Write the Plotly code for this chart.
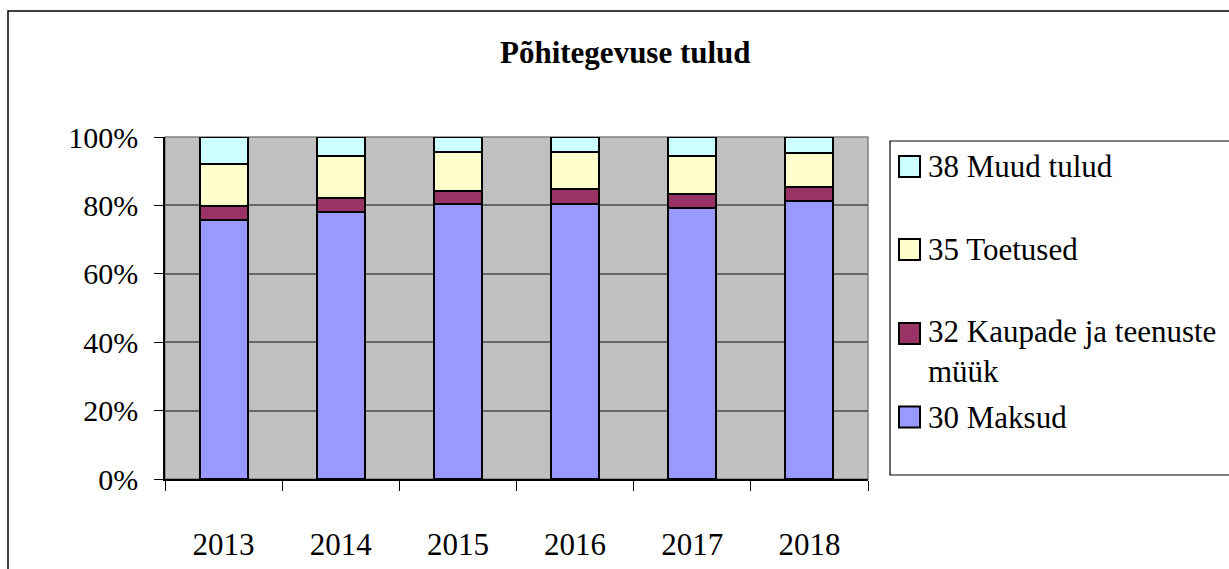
import plotly.graph_objects as go

W, H = 1229, 569

years = ["2013", "2014", "2015", "2016", "2017", "2018"]
maksud = [0.758, 0.782, 0.804, 0.805, 0.793, 0.814]
kaupade = [0.040, 0.039, 0.038, 0.042, 0.040, 0.039]
toetused = [0.122, 0.124, 0.115, 0.109, 0.112, 0.100]
muud = [0.080, 0.055, 0.043, 0.044, 0.055, 0.047]

names = ["30 Maksud", "32 Kaupade ja teenuste müük", "35 Toetused", "38 Muud tulud"]
colors = ["#9999FF", "#993366", "#FFFFCC", "#CCFFFF"]
series = [maksud, kaupade, toetused, muud]
y_ticks = [0, 0.2, 0.4, 0.6, 0.8, 1.0]

FONT = "Liberation Serif"

def px_x(x):
    return x / W

def px_y(y):
    return 1 - y / H

fig = go.Figure()
for name, col, vals in zip(names, colors, series):
    fig.add_trace(go.Bar(
        x=years, y=vals, name=name,
        marker=dict(color=col, line=dict(color="black", width=2)),
        showlegend=False,
    ))

shapes = []
# outer chart border (extends past right/bottom edge)
shapes.append(dict(type="rect", xref="paper", yref="paper",
                   x0=px_x(8), x1=px_x(W + 20), y0=px_y(H + 20), y1=px_y(11),
                   line=dict(color="black", width=1.5), layer="below"))
# plot area border (grey)
shapes.append(dict(type="rect", xref="paper", yref="paper",
                   x0=px_x(165), x1=px_x(868), y0=px_y(479), y1=px_y(137),
                   line=dict(color="#808080", width=1.5), layer="below"))
# legend box
shapes.append(dict(type="rect", xref="paper", yref="paper",
                   x0=px_x(890), x1=px_x(W + 20), y0=px_y(475), y1=px_y(141),
                   line=dict(color="black", width=1.2), layer="below"))

annotations = []
leg_centers = {"38 Muud tulud": 166.5, "35 Toetused": 249.5,
               "32 Kaupade ja teenuste müük": 333.5, "30 Maksud": 417}
for name, col in zip(names, colors):
    cy = leg_centers[name]
    shapes.append(dict(type="rect", xref="paper", yref="paper",
                       x0=px_x(899), x1=px_x(920), y0=px_y(cy + 10.5), y1=px_y(cy - 10.5),
                       fillcolor=col, line=dict(color="black", width=2)))
    if name.startswith("32"):
        text = "32 Kaupade ja teenuste<br>müük"
        ay = cy + 18
    else:
        text = name
        ay = cy
    annotations.append(dict(xref="paper", yref="paper", x=px_x(926), y=px_y(ay),
                            text=text, showarrow=False, xanchor="left", yanchor="middle",
                            align="left", font=dict(family=FONT, size=31, color="black")))

annotations.append(dict(xref="paper", yref="paper", x=px_x(625), y=px_y(52),
                        text="<b>Põhitegevuse tulud</b>", showarrow=False,
                        xanchor="center", yanchor="middle",
                        font=dict(family=FONT, size=31, color="black")))

fig.update_layout(
    width=W, height=H,
    margin=dict(l=0, r=0, t=0, b=0, autoexpand=False),
    barmode="stack",
    bargap=0.59,
    paper_bgcolor="white",
    plot_bgcolor="#C0C0C0",
    shapes=shapes,
    annotations=annotations,
    font=dict(family=FONT, color="black"),
    xaxis=dict(
        domain=[px_x(165), px_x(868)],
        type="category",
        automargin=False,
        showline=True, linecolor="black", linewidth=1.5,
        ticks="outside", tickson="boundaries", ticklen=10, tickcolor="black", tickwidth=1.2,
        showgrid=False,
        tickfont=dict(family=FONT, size=31, color="black"),
        ticklabelstandoff=37,
    ),
    yaxis=dict(
        domain=[px_y(479), px_y(137)],
        range=[0, 1],
        automargin=False,
        tickvals=y_ticks,
        tickformat=".0%",
        showline=True, linecolor="black", linewidth=1.5,
        ticks="outside", ticklen=9, tickcolor="black", tickwidth=1.2,
        showgrid=True, gridcolor="#666666", gridwidth=1.5,
        zeroline=False,
        tickfont=dict(family=FONT, size=30, color="black"),
        ticklabelstandoff=10,
    ),
)

fig.write_html(
    "out.html",
    config={"displayModeBar": False},
    post_script="document.body.style.margin='0';document.body.style.overflow='hidden';",
)
